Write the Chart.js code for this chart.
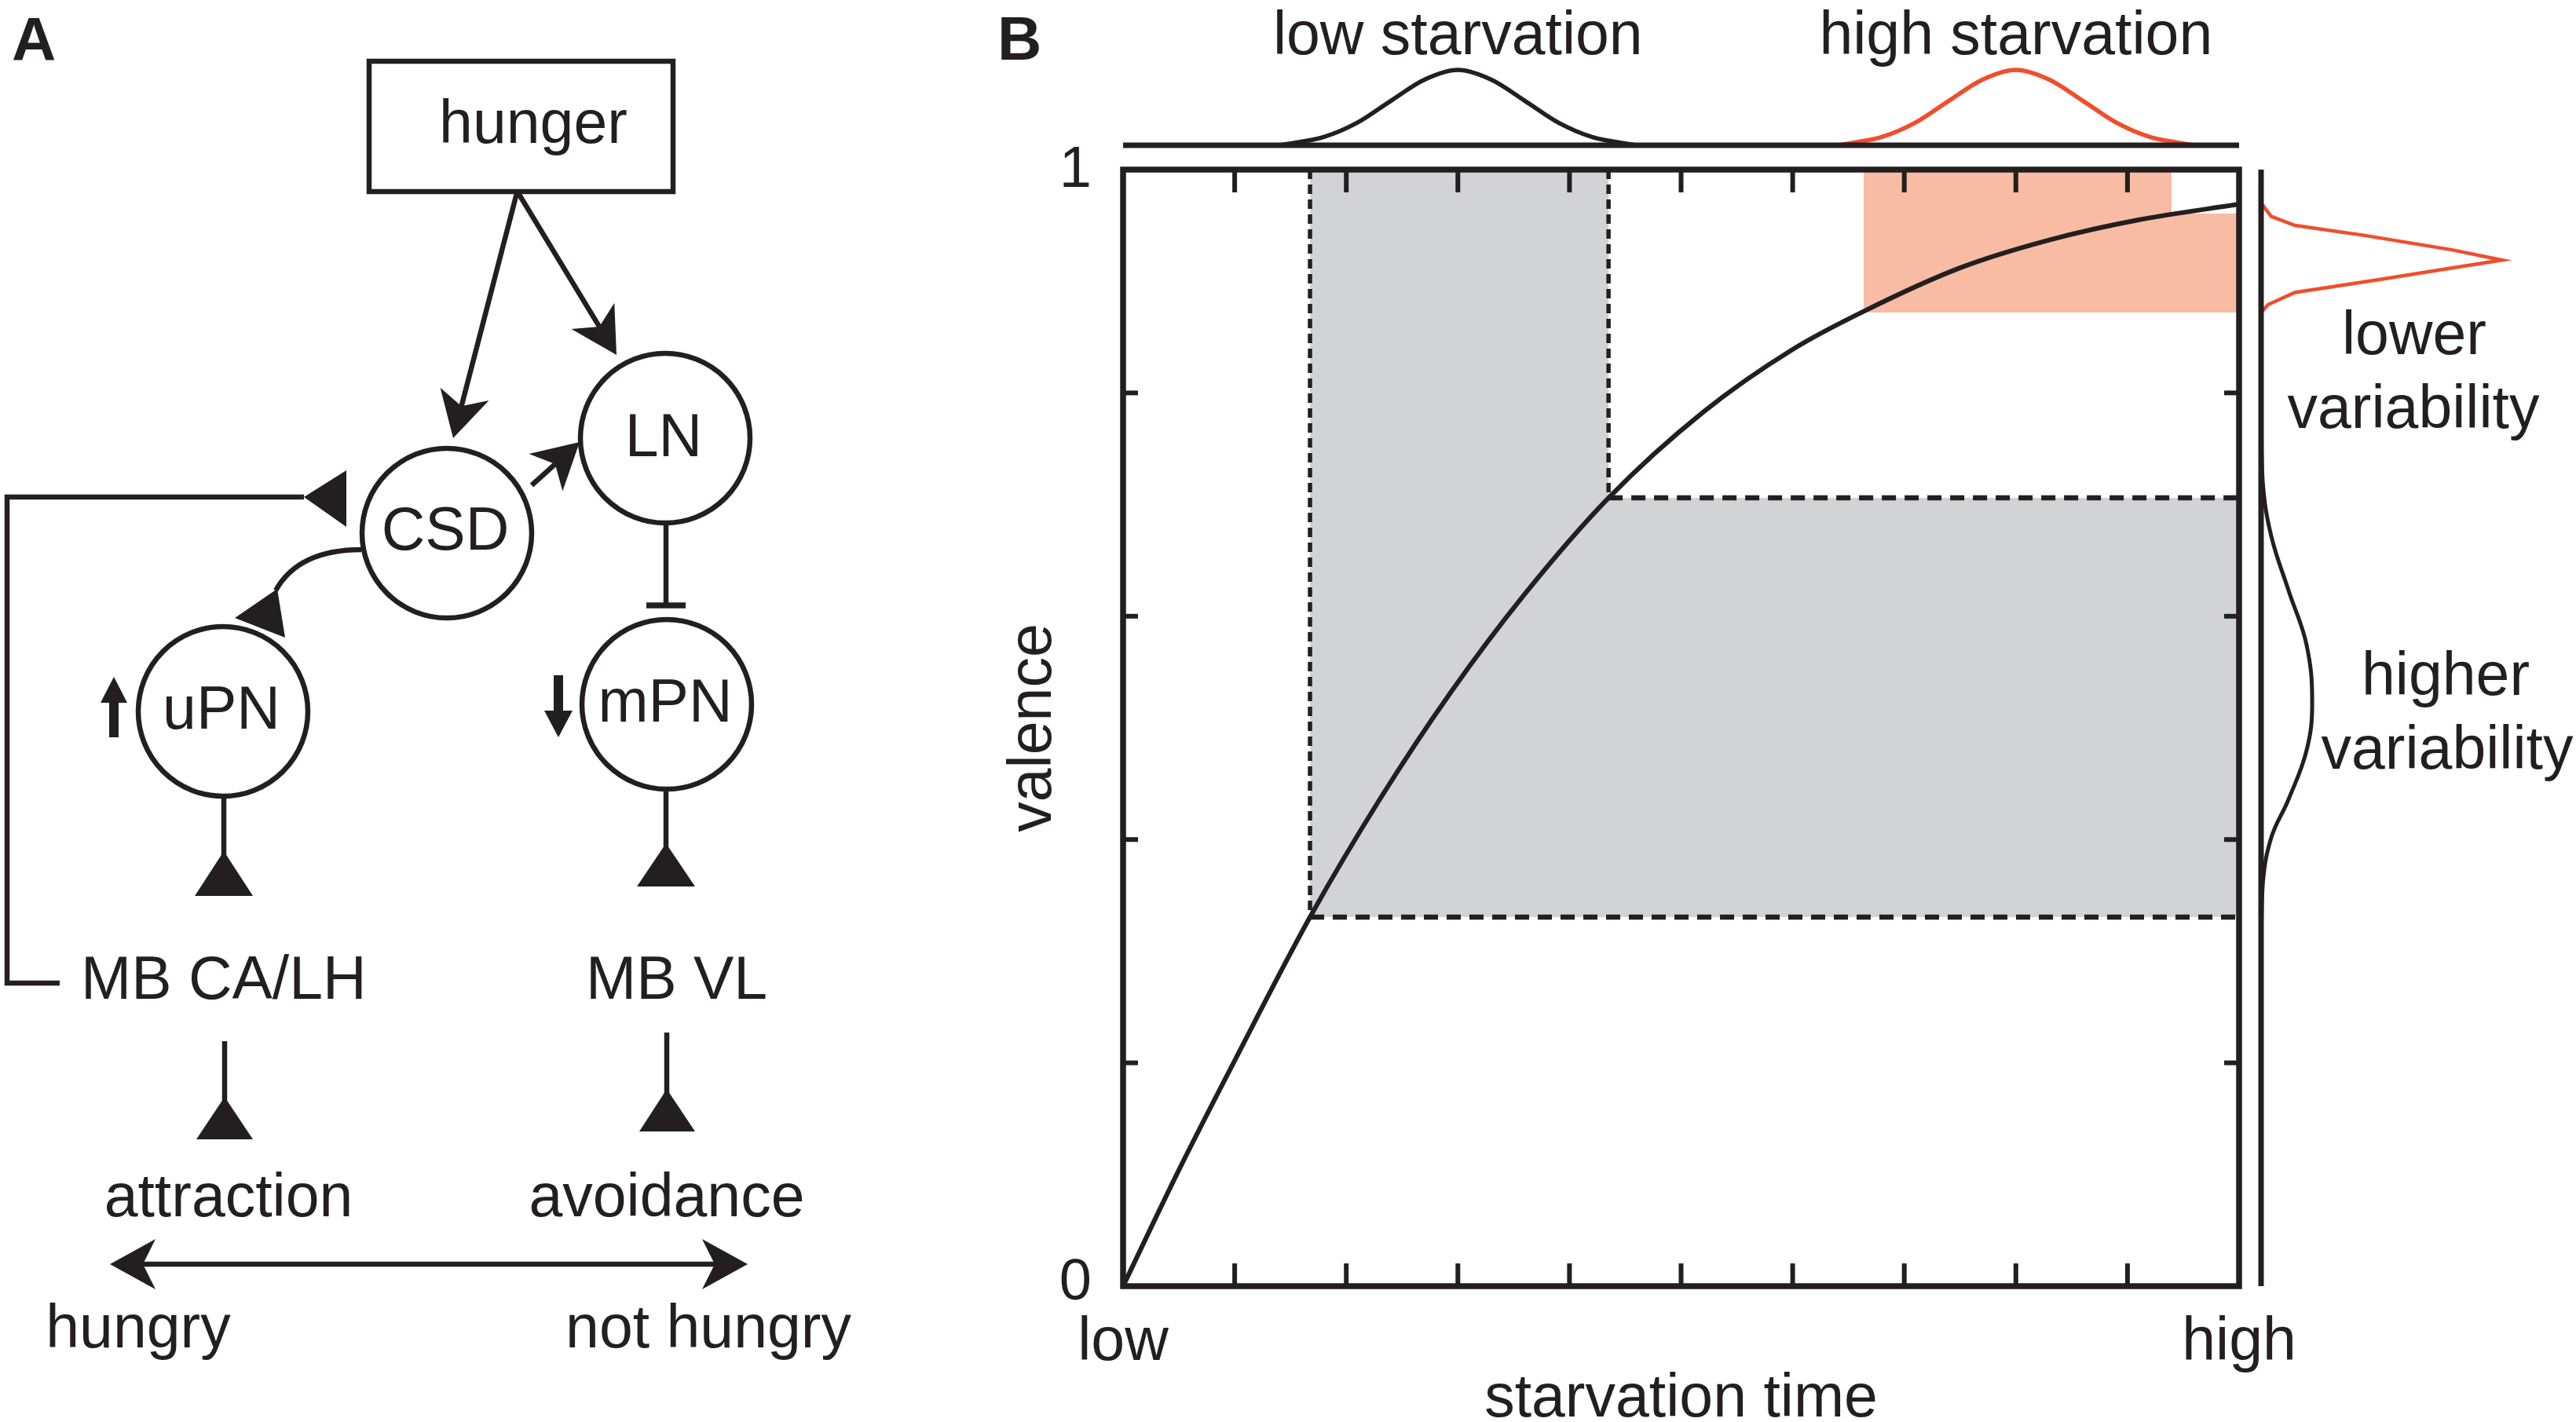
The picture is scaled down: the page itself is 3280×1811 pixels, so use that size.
<!DOCTYPE html>
<html lang="en">
<head>
    <meta charset="UTF-8">
    <title>Hunger circuit and starvation valence</title>
    <script src="https://cdn.jsdelivr.net/npm/chart.js@4.4.1/dist/chart.umd.min.js"></script>
    <style>
        html, body { margin: 0; padding: 0; background: #fff; }
        body {
            width: 3280px;
            height: 1811px;
            position: relative;
            overflow: hidden;
            font-family: "Liberation Sans", Arial, sans-serif;
        }
        #panelA { position: absolute; left: 0; top: 0; }
        #mainChart { position: absolute; left: 1250px; top: 0; }
        #topChart { position: absolute; left: 1410px; top: 60px; }
        #rightChart { position: absolute; left: 2859px; top: 186px; }
    </style>
</head>
<body>
    <svg id="panelA" width="1250" height="1811" viewBox="0 0 1250 1811"></svg>
    <canvas id="mainChart" width="2030" height="1811"></canvas>
    <canvas id="topChart" width="1461" height="150"></canvas>
    <canvas id="rightChart" width="347" height="1482"></canvas>

    <script>
        // valence as a function of starvation time
        const starvationTime = [0, 0.05, 0.10, 0.1675, 0.23, 0.293, 0.36, 0.435, 0.52, 0.60, 0.6635, 0.75, 0.83, 0.91, 1.0];
        const valence = [0, 0.104, 0.202, 0.3305, 0.436, 0.531, 0.620, 0.706, 0.783, 0.839, 0.873, 0.912, 0.937, 0.955, 0.969];

        // shaded ranges
        const lowStarvationRange = [0.1675, 0.435];
        const lowValenceRange = [0.3305, 0.706];
        const highStarvationRange = [0.6635, 0.9395];
        const highValenceRange = [0.872, 0.9606];

        // tick positions
        const xTicks = [0.1, 0.2, 0.3, 0.4, 0.5, 0.6, 0.7, 0.8, 0.9];
        const yTicks = [0.2, 0.4, 0.6, 0.8];

        // starvation time distributions (top)
        const lowStarvationTimes = [0.14, 0.18, 0.21, 0.24, 0.27, 0.30, 0.33, 0.36, 0.39, 0.42, 0.46];
        const highStarvationTimes = [0.64, 0.68, 0.71, 0.74, 0.77, 0.80, 0.83, 0.86, 0.89, 0.92, 0.96];
        const starvationDensity = [0, 0.11, 0.30, 0.59, 0.87, 1.0, 0.87, 0.59, 0.30, 0.11, 0];

        // valence distributions (right)
        const lowerVarValence = [0.872, 0.879, 0.890, 0.901, 0.9125, 0.919, 0.928, 0.941, 0.950, 0.958, 0.970];
        const lowerVarDensity = [0, 0.29, 1.4, 4.76, 8.08, 10, 7.95, 4.3, 1.4, 0.42, 0];
        const higherVarValence = [0.30, 0.36, 0.4015, 0.436, 0.480, 0.522, 0.574, 0.623, 0.672, 0.72, 0.78];
        const higherVarDensity = [0, 0.07, 0.42, 1.14, 1.89, 2.12, 1.89, 1.14, 0.42, 0.07, 0];

        const INK = '#231f20';
        const RED = '#f04e2c';
        const GREY = '#d1d3d4';
        const SALMON = '#f7bca3';
        const FONT = '"Liberation Sans", Arial, sans-serif';

        const pts = (xs, ys) => xs.map((x, i) => ({ x: x, y: ys[i] }));

        function lShape(tr, vr) {
            // outline of the band: vertical part then horizontal part
            return [
                { x: tr[0], y: 1 }, { x: tr[1], y: 1 },
                { x: tr[1], y: vr[1] }, { x: 1, y: vr[1] }
            ];
        }

        function drawPanelA() {
            const svg = document.getElementById('panelA');

            function arrow(fx, fy, tx, ty) {
                const d = Math.hypot(tx - fx, ty - fy);
                const ux = (tx - fx) / d, uy = (ty - fy) / d;
                const px = -uy, py = ux;
                const L = 58, W = 32, N = 42;
                const b1 = [tx - L * ux + W * px, ty - L * uy + W * py];
                const b2 = [tx - L * ux - W * px, ty - L * uy - W * py];
                const n = [tx - N * ux, ty - N * uy];
                return { shaft: n, head: `<polygon stroke="none" points="${tx},${ty} ${b1} ${n} ${b2}"/>` };
            }

            function arrowLine(fx, fy, tx, ty) {
                const a = arrow(fx, fy, tx, ty);
                return `<line x1="${fx}" y1="${fy}" x2="${a.shaft[0]}" y2="${a.shaft[1]}"/>` + a.head;
            }

            let s = `<g stroke="${INK}" fill="${INK}" stroke-width="6.5" stroke-linecap="butt">`;

            // hunger box and arrows
            s += `<rect x="470" y="78" width="387" height="166" fill="none"/>`;
            s += arrowLine(658, 246, 577, 558);
            s += arrowLine(660, 246, 785, 452);
            s += arrowLine(677, 618, 738, 563);

            // feedback loop from MB CA/LH to CSD
            s += `<polyline fill="none" points="76,1252 9,1252 9,633 387,633"/>`;
            s += `<polygon stroke="none" points="387,633 441,599 441,671"/>`;

            // CSD to uPN
            s += `<path fill="none" d="M460,700 Q380,700 351,752"/>`;
            s += `<polygon stroke="none" points="299,787 353,750 363,812"/>`;

            // LN inhibits mPN
            s += `<line x1="848" y1="667" x2="848" y2="771"/>`;
            s += `<line x1="823" y1="771" x2="873" y2="771" stroke-width="7.5"/>`;

            // stems to MB
            s += `<line x1="285" y1="1012" x2="285" y2="1090"/>`;
            s += `<polygon stroke="none" points="285,1084 248,1141 322,1141"/>`;
            s += `<line x1="848" y1="1003" x2="848" y2="1080"/>`;
            s += `<polygon stroke="none" points="848,1074 811,1129 885,1129"/>`;
            s += `<line x1="286" y1="1326" x2="286" y2="1403"/>`;
            s += `<polygon stroke="none" points="286,1397 250,1451 322,1451"/>`;
            s += `<line x1="849" y1="1315" x2="849" y2="1393"/>`;
            s += `<polygon stroke="none" points="849,1387 814,1441 885,1441"/>`;

            // up / down markers
            s += `<polygon stroke="none" points="145,862 162,895 151,895 151,939 139,939 139,895 128,895"/>`;
            s += `<polygon stroke="none" points="711,939 729,905 717,905 717,860 705,860 705,905 693,905"/>`;

            // hungry <-> not hungry
            const l = arrow(952, 1610, 140, 1610), r = arrow(140, 1610, 952, 1610);
            s += `<line x1="${l.shaft[0]}" y1="1610" x2="${r.shaft[0]}" y2="1610"/>`;
            s += l.head + r.head;

            // neurons
            s += `<circle cx="569" cy="679" r="108" fill="#fff"/>`;
            s += `<circle cx="847" cy="558" r="108" fill="#fff"/>`;
            s += `<circle cx="284" cy="906" r="108" fill="#fff"/>`;
            s += `<circle cx="849" cy="897" r="108" fill="#fff"/>`;
            s += `</g>`;

            // labels
            s += `<g fill="${INK}" font-family='${FONT}' font-size="77" text-anchor="middle">`;
            s += `<text x="15" y="77" font-weight="bold" font-size="78" text-anchor="start">A</text>`;
            s += `<text x="679" y="182">hunger</text>`;
            s += `<text x="567" y="700">CSD</text>`;
            s += `<text x="845" y="581">LN</text>`;
            s += `<text x="282" y="928">uPN</text>`;
            s += `<text x="847" y="919">mPN</text>`;
            s += `<text x="103" y="1272" text-anchor="start">MB CA/LH</text>`;
            s += `<text x="746" y="1272" text-anchor="start">MB VL</text>`;
            s += `<text x="291" y="1549">attraction</text>`;
            s += `<text x="849" y="1549">avoidance</text>`;
            s += `<text x="176" y="1716">hungry</text>`;
            s += `<text x="902" y="1716">not hungry</text>`;
            s += `</g>`;

            svg.innerHTML = s;
        }

        // frame, inward ticks and text for panel B
        const panelBDecor = {
            id: 'panelBDecor',
            afterDatasetsDraw(chart) {
                const { ctx, chartArea: ca, scales: { x, y } } = chart;
                ctx.save();
                ctx.strokeStyle = INK;
                ctx.fillStyle = INK;
                ctx.lineCap = 'butt';

                const seg = (x1, y1, x2, y2) => {
                    ctx.beginPath(); ctx.moveTo(x1, y1); ctx.lineTo(x2, y2); ctx.stroke();
                };

                ctx.lineWidth = 6;
                xTicks.forEach(v => {
                    const px = x.getPixelForValue(v);
                    seg(px, ca.bottom, px, ca.bottom - 29);
                    seg(px, ca.top, px, ca.top + 29);
                });
                yTicks.forEach(v => {
                    const py = y.getPixelForValue(v);
                    seg(ca.left, py, ca.left + 19, py);
                    seg(ca.right, py, ca.right - 19, py);
                });

                ctx.lineWidth = 7.5;
                ctx.strokeRect(ca.left, ca.top, ca.right - ca.left, ca.bottom - ca.top);

                // axis labels
                ctx.font = '74px ' + FONT;
                ctx.textAlign = 'right';
                ctx.textBaseline = 'middle';
                ctx.fillText('1', ca.left - 40, y.getPixelForValue(1) + 2);
                ctx.fillText('0', ca.left - 40, y.getPixelForValue(0) - 3);

                ctx.font = '77px ' + FONT;
                ctx.textAlign = 'center';
                ctx.textBaseline = 'alphabetic';
                ctx.fillText('low', x.getPixelForValue(0), ca.bottom + 94);
                ctx.fillText('high', x.getPixelForValue(1), ca.bottom + 94);
                ctx.fillText('starvation time', (ca.left + ca.right) / 2, ca.bottom + 166);

                ctx.save();
                ctx.translate(ca.left - 92, (ca.top + ca.bottom) / 2);
                ctx.rotate(-Math.PI / 2);
                ctx.fillText('valence', 0, 0);
                ctx.restore();

                // distribution captions
                const peak = starvationDensity.indexOf(Math.max(...starvationDensity));
                ctx.fillText('low starvation', x.getPixelForValue(lowStarvationTimes[peak]), 69);
                ctx.fillText('high starvation', x.getPixelForValue(highStarvationTimes[peak]), 69);

                ctx.fillText('lower', ca.right + 223, 451);
                ctx.fillText('variability', ca.right + 222, 545);
                ctx.fillText('higher', ca.right + 263, 885);
                ctx.fillText('variability', ca.right + 265, 979);

                ctx.font = 'bold 78px ' + FONT;
                ctx.textAlign = 'left';
                ctx.fillText('B', 20, 76);
                ctx.restore();
            }
        };

        const hidden = { legend: { display: false }, tooltip: { enabled: false } };

        document.addEventListener('DOMContentLoaded', function() {
            drawPanelA();

            // Main valence curve
            new Chart(document.getElementById('mainChart'), {
                type: 'line',
                data: {
                    datasets: [
                        {
                            data: pts(starvationTime, valence),
                            borderColor: INK,
                            borderWidth: 6,
                            cubicInterpolationMode: 'monotone'
                        },
                        {
                            data: [{ x: lowStarvationRange[0], y: 1 }, { x: lowStarvationRange[0], y: lowValenceRange[0] }],
                            borderColor: INK, borderWidth: 5.5, borderDash: [12, 7]
                        },
                        {
                            data: [{ x: lowStarvationRange[1], y: 1 }, { x: lowStarvationRange[1], y: lowValenceRange[1] }],
                            borderColor: INK, borderWidth: 5.5, borderDash: [12, 7]
                        },
                        {
                            data: [{ x: lowStarvationRange[1], y: lowValenceRange[1] }, { x: 1, y: lowValenceRange[1] }],
                            borderColor: INK, borderWidth: 6.5, borderDash: [18, 11]
                        },
                        {
                            data: [{ x: lowStarvationRange[0], y: lowValenceRange[0] }, { x: 1, y: lowValenceRange[0] }],
                            borderColor: INK, borderWidth: 6.5, borderDash: [18, 11]
                        },
                        {
                            data: lShape(lowStarvationRange, lowValenceRange),
                            borderColor: 'transparent',
                            borderWidth: 0,
                            backgroundColor: GREY,
                            fill: { value: lowValenceRange[0] }
                        },
                        {
                            data: lShape(highStarvationRange, highValenceRange),
                            borderColor: 'transparent',
                            borderWidth: 0,
                            backgroundColor: SALMON,
                            fill: { value: highValenceRange[0] }
                        }
                    ]
                },
                options: {
                    responsive: false,
                    animation: false,
                    layout: { padding: { left: 180, top: 216, right: 429, bottom: 173 } },
                    plugins: hidden,
                    elements: { point: { radius: 0 }, line: { borderCapStyle: 'butt' } },
                    scales: {
                        x: { type: 'linear', min: 0, max: 1, display: false },
                        y: { type: 'linear', min: 0, max: 1, display: false }
                    }
                },
                plugins: [panelBDecor]
            });

            // Starvation time distributions
            new Chart(document.getElementById('topChart'), {
                type: 'line',
                data: {
                    datasets: [
                        { data: [{ x: 0, y: 0 }, { x: 1, y: 0 }], borderColor: INK, borderWidth: 7, clip: false },
                        { data: pts(lowStarvationTimes, starvationDensity), borderColor: INK, borderWidth: 5.5, cubicInterpolationMode: 'monotone', clip: false },
                        { data: pts(highStarvationTimes, starvationDensity), borderColor: RED, borderWidth: 5.5, cubicInterpolationMode: 'monotone', clip: false }
                    ]
                },
                options: {
                    responsive: false,
                    animation: false,
                    layout: { padding: { left: 20, right: 20, top: 29, bottom: 25 } },
                    plugins: hidden,
                    elements: { point: { radius: 0 } },
                    scales: {
                        x: { type: 'linear', min: 0, max: 1, display: false },
                        y: { type: 'linear', min: 0, max: 1, display: false }
                    }
                }
            });

            // Valence distributions
            new Chart(document.getElementById('rightChart'), {
                type: 'line',
                data: {
                    datasets: [
                        { data: [{ x: 0, y: 0 }, { x: 0, y: 1 }], borderColor: INK, borderWidth: 7, clip: false },
                        { data: pts(lowerVarDensity, lowerVarValence), borderColor: RED, borderWidth: 4.5, tension: 0, clip: false },
                        { data: pts(higherVarDensity, higherVarValence), borderColor: INK, borderWidth: 5, tension: 0.4, clip: false }
                    ]
                },
                options: {
                    responsive: false,
                    animation: false,
                    layout: { padding: { left: 20, right: 20, top: 30, bottom: 30 } },
                    plugins: hidden,
                    elements: { point: { radius: 0 } },
                    scales: {
                        x: { type: 'linear', min: 0, max: 10, display: false },
                        y: { type: 'linear', min: 0, max: 1, display: false }
                    }
                }
            });
        });
    </script>
</body>
</html>
